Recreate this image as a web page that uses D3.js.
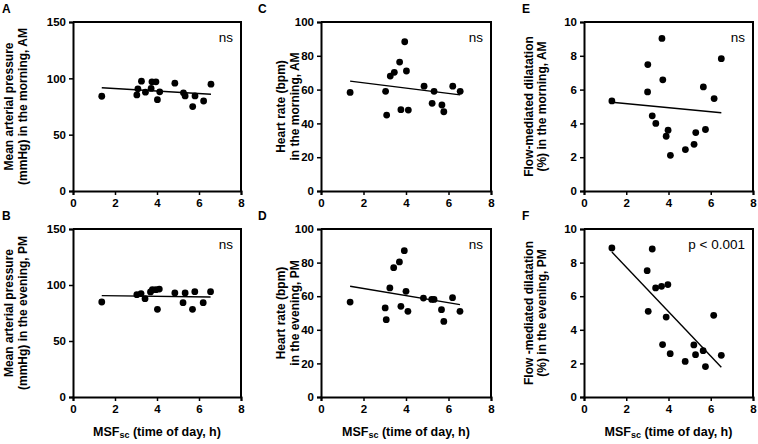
<!DOCTYPE html>
<html><head><meta charset="utf-8">
<script src="https://cdn.jsdelivr.net/npm/d3@7/dist/d3.min.js"></script>
<style>
html,body{margin:0;padding:0;background:#fff;}
text{font-family:"Liberation Sans",Arial,sans-serif;}
</style></head>
<body><svg id="c" width="758" height="444"></svg>
<script>
// ---- data ----
const xTicks = [0, 2, 4, 6, 8];
const mapTicks = [0, 50, 100, 150];
const hrTicks = [0, 20, 40, 60, 80, 100];
const fmdTicks = [0, 2, 4, 6, 8, 10];

// Panel A: mean arterial pressure AM
const xA = [1.37, 3.04, 3.09, 3.26, 3.45, 3.72, 3.76, 3.95, 4.02, 4.13, 4.85, 5.26, 5.34, 5.70, 5.81, 6.22, 6.57];
const yA = [84.1, 85.3, 90.7, 97.5, 87.7, 91.0, 96.9, 96.9, 81.1, 88.0, 95.7, 87.1, 84.4, 74.9, 84.4, 79.9, 94.8];
const fitA = [[1.37, 91.6], [6.57, 85.9]];

// Panel B: mean arterial pressure PM
const xB = [1.37, 3.04, 3.24, 3.43, 3.69, 3.78, 3.95, 4.11, 4.02, 4.85, 5.24, 5.34, 5.69, 5.80, 6.20, 6.55];
const yB = [84.8, 91.4, 92.3, 87.8, 93.8, 95.8, 95.8, 96.4, 78.3, 92.9, 84.2, 92.9, 78.3, 94.0, 84.2, 94.0];
const fitB = [[1.37, 90.5], [6.55, 89.3]];

// Panel C: heart rate AM
const xC = [1.37, 3.04, 3.09, 3.26, 3.45, 3.70, 3.94, 4.02, 3.76, 4.11, 4.85, 5.32, 5.23, 5.69, 5.78, 6.20, 6.55];
const yC = [58.3, 59.0, 44.9, 68.0, 70.2, 76.3, 88.3, 71.0, 48.1, 47.9, 62.0, 59.0, 51.9, 50.9, 46.9, 62.0, 59.0];
const fitC = [[1.37, 65.0], [6.55, 56.9]];

// Panel D: heart rate PM
const xD = [1.37, 3.02, 3.07, 3.24, 3.42, 3.69, 3.92, 4.00, 3.76, 4.09, 4.82, 5.21, 5.32, 5.67, 5.78, 6.19, 6.54];
const yD = [56.5, 53.0, 46.0, 64.9, 77.0, 80.4, 87.1, 62.9, 54.0, 51.0, 58.9, 58.1, 58.1, 52.0, 45.0, 59.1, 51.0];
const fitD = [[1.37, 65.9], [6.54, 55.0]];

// Panel E: flow-mediated dilatation AM
const xE = [1.32, 3.02, 3.01, 3.23, 3.40, 3.69, 3.73, 3.98, 3.89, 4.09, 4.80, 5.21, 5.29, 5.65, 5.75, 6.16, 6.50];
const yE = [5.33, 7.48, 5.86, 4.45, 4.00, 9.03, 6.58, 3.60, 3.24, 2.11, 2.45, 2.76, 3.46, 6.16, 3.64, 5.47, 7.83];
const fitE = [[1.32, 5.25], [6.50, 4.63]];

// Panel F: flow-mediated dilatation PM
const xF = [1.32, 3.23, 2.99, 3.04, 3.39, 3.67, 3.97, 3.89, 3.72, 4.08, 4.79, 5.20, 5.28, 5.64, 5.75, 6.14, 6.50];
const yF = [8.87, 8.81, 7.52, 5.10, 6.49, 6.59, 6.69, 4.76, 3.12, 2.58, 2.12, 3.10, 2.52, 2.76, 1.81, 4.86, 2.48];
const fitF = [[1.32, 8.63], [6.50, 1.77]];

const letters = ["A", "B", "C", "D", "E", "F"];
const titles1 = ["Mean arterial pressure", "Mean arterial pressure", "Heart rate (bpm)", "Heart rate (bpm)", "Flow-mediated dilatation", "Flow -mediated dilatation"];
const titles2 = ["(mmHg) in the morning, AM", "(mmHg) in the evening, PM", "in the morning, AM", "in the evening, PM", "(%) in the morning, AM", "(%) in the evening, PM"];
const notes = ["ns", "ns", "ns", "ns", "ns", "p < 0.001"];

// ---- layout ----
const svg = d3.select("#c");
const cols = [
  {l: 73, r: 241, letterX: 2, t1: 13, t2: 26.5},
  {l: 321, r: 491, letterX: 258, t1: 285, t2: 299},
  {l: 584, r: 753, letterX: 522, t1: 532.5, t2: 546}
];
const rows = [{t: 22, b: 191}, {t: 229, b: 397}];

const panels = [
  {c: 0, r: 0, xs: xA, ys: yA, fit: fitA, dom: [0, 150], ticks: mapTicks},
  {c: 0, r: 1, xs: xB, ys: yB, fit: fitB, dom: [0, 150], ticks: mapTicks},
  {c: 1, r: 0, xs: xC, ys: yC, fit: fitC, dom: [0, 100], ticks: hrTicks},
  {c: 1, r: 1, xs: xD, ys: yD, fit: fitD, dom: [0, 100], ticks: hrTicks},
  {c: 2, r: 0, xs: xE, ys: yE, fit: fitE, dom: [0, 10], ticks: fmdTicks},
  {c: 2, r: 1, xs: xF, ys: yF, fit: fitF, dom: [0, 10], ticks: fmdTicks}
];

panels.forEach((p, i) => {
  const col = cols[p.c], row = rows[p.r];
  const x = d3.scaleLinear().domain([0, 8]).range([col.l, col.r]);
  const y = d3.scaleLinear().domain(p.dom).range([row.b, row.t]);
  const g = svg.append("g");

  // box (top & right)
  g.append("path")
    .attr("d", `M${col.l},${row.t}H${col.r}V${row.b}`)
    .attr("fill", "none").attr("stroke", "#000").attr("stroke-width", 2);

  const xa = g.append("g").attr("transform", `translate(0,${row.b})`)
    .call(d3.axisBottom(x).tickValues(xTicks).tickSize(4).tickPadding(4).tickFormat(d3.format("d")));
  const ya = g.append("g").attr("transform", `translate(${col.l},0)`)
    .call(d3.axisLeft(y).tickValues(p.ticks).tickSize(4).tickPadding(3).tickFormat(d3.format("d")));
  [xa, ya].forEach(a => {
    a.select(".domain").attr("stroke-width", 2).attr("stroke", "#000");
    a.selectAll(".tick line").attr("stroke-width", 1.5).attr("stroke", "#000");
    a.selectAll("text").attr("font-size", 11.5).attr("font-weight", "bold")
      .attr("fill", "#000").style("font-family", '"Liberation Sans",Arial,sans-serif');
  });

  // regression line
  g.append("line")
    .attr("x1", x(p.fit[0][0])).attr("y1", y(p.fit[0][1]))
    .attr("x2", x(p.fit[1][0])).attr("y2", y(p.fit[1][1]))
    .attr("stroke", "#000").attr("stroke-width", 1.4);

  // points
  g.selectAll("circle").data(p.xs.map((v, k) => [v, p.ys[k]])).enter().append("circle")
    .attr("cx", d => x(d[0])).attr("cy", d => y(d[1])).attr("r", 3.4).attr("fill", "#000");

  // note
  g.append("text").attr("x", col.r - 8).attr("y", row.t + 20)
    .attr("text-anchor", "end").attr("font-size", 13.5).attr("fill", "#000").text(notes[i]);

  // letter
  g.append("text").attr("x", col.letterX).attr("y", row.t - 9)
    .attr("font-size", 12).attr("font-weight", "bold").attr("fill", "#000").text(letters[i]);

  // y title
  const cy = (row.t + row.b) / 2;
  [[titles1[i], col.t1], [titles2[i], col.t2]].forEach(([txt, bx]) => {
    g.append("text").attr("transform", `translate(${bx},${cy}) rotate(-90)`)
      .attr("text-anchor", "middle").attr("font-size", 12).attr("font-weight", "bold")
      .attr("fill", "#000").text(txt);
  });

  // x title for bottom row
  if (p.r === 1) {
    const t = g.append("text").attr("x", (col.l + col.r) / 2).attr("y", 436)
      .attr("text-anchor", "middle").attr("font-size", 12.5).attr("font-weight", "bold").attr("fill", "#000");
    t.append("tspan").text("MSF");
    t.append("tspan").attr("font-size", 9).attr("dy", 2).text("sc");
    t.append("tspan").attr("dy", -2).text(" (time of day, h)");
  }
});
</script></body></html>
